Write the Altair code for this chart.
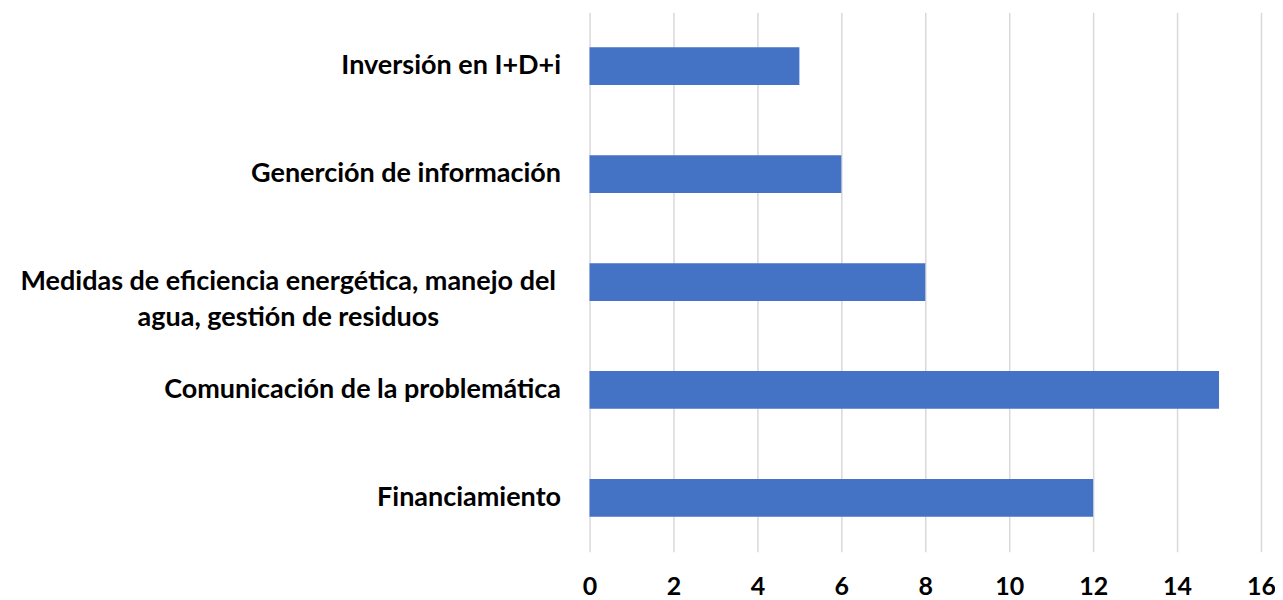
import altair as alt
import pandas as pd

categories = [
    "Inversión en I+D+i",
    "Generción de información",
    "Medidas de eficiencia energética, manejo del|agua, gestión de residuos",
    "Comunicación de la problemática",
    "Financiamiento",
]
values = [5, 6, 8, 15, 12]
x_ticks = [0, 2, 4, 6, 8, 10, 12, 14, 16]

df = pd.DataFrame({"cat": categories, "val": values})
multi = categories[2]

chart = alt.Chart(df).mark_bar(color="#4472C4").encode(
    x=alt.X("val:Q",
            scale=alt.Scale(domain=[0, 16], nice=False),
            axis=alt.Axis(values=x_ticks, title=None, grid=True, gridColor="#D9D9D9",
                          gridWidth=1.5, domain=False, ticks=False,
                          labelFont="Lato", labelFontWeight="bold", labelFontSize=25,
                          labelColor="#000000", labelPadding=23, labelFlush=False)),
    y=alt.Y("cat:N", sort=categories,
            scale=alt.Scale(paddingInner=0.65, paddingOuter=0.325),
            axis=alt.Axis(title=None, grid=False, domain=False, ticks=False,
                          labelExpr="split(datum.label, '|')",
                          labelFont="Lato", labelFontWeight="bold", labelFontSize=27,
                          labelColor="#000000", labelLineHeight=36, labelLimit=0,
                          labelAlign={"condition": {"test": f"datum.value == '{multi}'", "value": "center"}, "value": "right"},
                          labelPadding={"condition": {"test": f"datum.value == '{multi}'", "value": 302}, "value": 29})),
).properties(
    width=672, height=540,
    autosize=alt.AutoSizeParams(type="none"),
    padding={"left": 582, "top": 4, "right": 14, "bottom": 48},
).configure_view(stroke=None)

chart.save("out.html", embed_options={"renderer": "svg", "actions": False})
